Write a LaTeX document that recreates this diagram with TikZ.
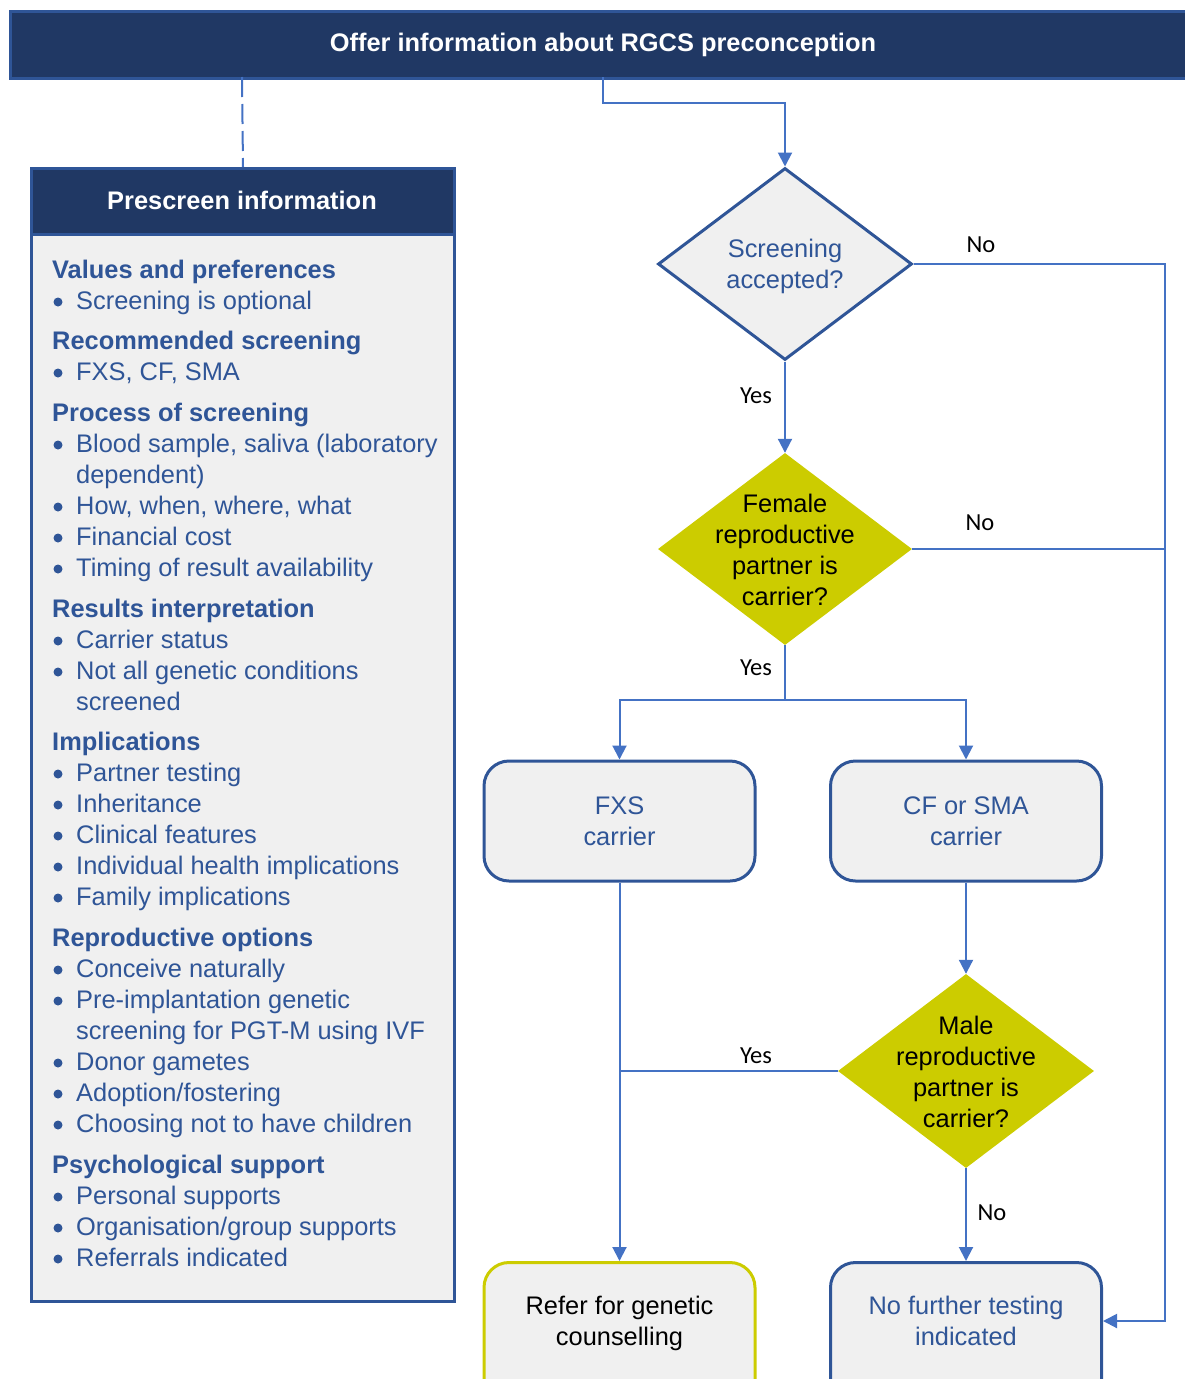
\documentclass[tikz,border=0pt]{standalone}
\usepackage{fontspec}
\setmainfont{Liberation Sans}
\newfontfamily\calibfont{Carlito}
\usetikzlibrary{shapes.geometric,arrows.meta}
\definecolor{navy}{HTML}{203864}
\definecolor{bblue}{HTML}{2F5597}
\definecolor{lblue}{HTML}{4472C4}
\definecolor{greyfill}{HTML}{F0F0F0}
\definecolor{olive}{HTML}{CCCC00}
\newcommand\PHead[2]{\node[phead] (h#1) at (52,#1) {#2};}
\newcommand\PItem[2]{\fill[bblue] (58,{#1-7}) circle (4.5pt); \node[pitem] (b#1) at (76,#1) {#2};}
\newcommand\PCont[2]{\node[pitem] (c#1) at (76,#1) {#2};}
\begin{document}
\begin{tikzpicture}[x=1pt,y=-1pt,
  conn/.style={draw=lblue, line width=2pt},
  arr/.style={conn, -{Triangle[width=14pt,length=14pt]}},
  phead/.style={anchor=base west, inner sep=0pt, text=bblue, font=\bfseries\fontsize{25.4}{31}\selectfont},
  pitem/.style={anchor=base west, inner sep=0pt, text=bblue, font=\fontsize{25.4}{31}\selectfont},
  maintext/.style={align=center, inner sep=0pt, font=\fontsize{25.4}{31}\selectfont},
  lbl/.style={inner sep=0pt, text=black, font=\calibfont\fontsize{24.5}{29}\selectfont},
  dia/.style={diamond, inner sep=0pt, minimum width=254pt, minimum height=192pt},
  rbox/.style={rectangle, rounded corners=25pt, line width=3pt, fill=greyfill, minimum width=271pt}
]
\useasboundingbox (0,0) rectangle (1185,1379);
\clip (0,0) rectangle (1185,1379);

% top banner
\node[rectangle, anchor=north west, fill=navy, draw=bblue, line width=2.5pt, minimum width=1200pt, minimum height=67pt] (top) at (9,10) {};
\node[inner sep=0pt, text=white, font=\bfseries\fontsize{25.4}{31}\selectfont] (toptext) at (603,45) {Offer information about RGCS preconception};
\coordinate (topL) at (242,77);
\coordinate (topR) at (603,77);

% prescreen panel
\node[rectangle, anchor=north west, fill=greyfill, draw=bblue, line width=3pt, minimum width=423pt, minimum height=1133pt] (pre) at (30,167) {};
\node[rectangle, anchor=north west, fill=navy, draw=bblue, line width=3pt, minimum width=423pt, minimum height=66pt] (prehead) at (30,167) {};
\node[inner sep=0pt, text=white, font=\bfseries\fontsize{25.4}{31}\selectfont] (pretext) at (242,200) {Prescreen information};
\draw[conn, dash pattern=on 20pt off 7pt] (topL) -- (prehead.north);

\PHead{278}{Values and preferences}
\PItem{309}{Screening is optional}
\PHead{349}{Recommended screening}
\PItem{380}{FXS, CF, SMA}
\PHead{421}{Process of screening}
\PItem{452}{Blood sample, saliva (laboratory}
\PCont{483}{dependent)}
\PItem{514}{How, when, where, what}
\PItem{545}{Financial cost}
\PItem{576}{Timing of result availability}
\PHead{617}{Results interpretation}
\PItem{648}{Carrier status}
\PItem{679}{Not all genetic conditions}
\PCont{710}{screened}
\PHead{750}{Implications}
\PItem{781}{Partner testing}
\PItem{812}{Inheritance}
\PItem{843}{Clinical features}
\PItem{874}{Individual health implications}
\PItem{905}{Family implications}
\PHead{946}{Reproductive options}
\PItem{977}{Conceive naturally}
\PItem{1008}{Pre-implantation genetic}
\PCont{1039}{screening for PGT-M using IVF}
\PItem{1070}{Donor gametes}
\PItem{1101}{Adoption/fostering}
\PItem{1132}{Choosing not to have children}
\PHead{1173}{Psychological support}
\PItem{1204}{Personal supports}
\PItem{1235}{Organisation/group supports}
\PItem{1266}{Referrals indicated}

% diamonds
\node[dia, fill=greyfill, draw=bblue, line width=3pt] (d1) at (785,264) {};
\node[maintext, text=bblue] (d1t) at (785,266) {Screening\\accepted?};
\node[dia, fill=olive] (d2) at (785,549) {};
\node[maintext, text=black] (d2t) at (785,550) {Female\\reproductive\\partner is\\carrier?};
\node[dia, fill=olive, minimum width=256pt, minimum height=194pt] (d3) at (966,1071) {};
\node[maintext, text=black] (d3t) at (966,1072) {Male\\reproductive\\partner is\\carrier?};

% boxes
\node[rbox, draw=bblue, minimum height=120pt] (fxs) at (619.5,821) {};
\node[maintext, text=bblue] (fxst) at (619.5,821) {FXS\\carrier};
\node[rbox, draw=bblue, minimum height=120pt] (cf) at (966,821) {};
\node[maintext, text=bblue] (cft) at (966,821) {CF or SMA\\carrier};
\node[rbox, draw=olive, minimum height=160pt, anchor=north] (refer) at (619.5,1261) {};
\node[maintext, text=black] (refert) at (619.5,1323) {Refer for genetic\\counselling};
\node[rbox, draw=bblue, minimum height=160pt, anchor=north] (nft) at (966,1261) {};
\node[maintext, text=bblue] (nftt) at (966,1321) {No further testing\\indicated};

% connectors
\coordinate (bend) at (603,103);
\draw[arr] (topR) -- (bend) -| (d1.north);
\coordinate (rr) at (1165,264);
\draw[arr] (d1.east) -- (rr) |- (nft.east |- nftt);
\draw[arr] (d1.south) -- (d2.north);
\draw[conn] (d2.east) -- (d2.east -| rr);
\coordinate (split) at (785,700);
\draw[conn] (d2.south) -- (split);
\draw[arr] (split) -| (fxs.north);
\draw[arr] (split) -| (cf.north);
\draw[arr] (fxs.south) -- (refer.north);
\draw[arr] (cf.south) -- (d3.north);
\draw[conn] (d3.west) -- (d3.west -| fxs.south);
\draw[arr] (d3.south) -- (nft.north);

% labels
\node[lbl] (l1) at (981,245) {No};
\node[lbl] (l2) at (756,396) {Yes};
\node[lbl] (l3) at (980,523) {No};
\node[lbl] (l4) at (756,668) {Yes};
\node[lbl] (l5) at (756,1056) {Yes};
\node[lbl] (l6) at (992,1213) {No};
\end{tikzpicture}
\end{document}
